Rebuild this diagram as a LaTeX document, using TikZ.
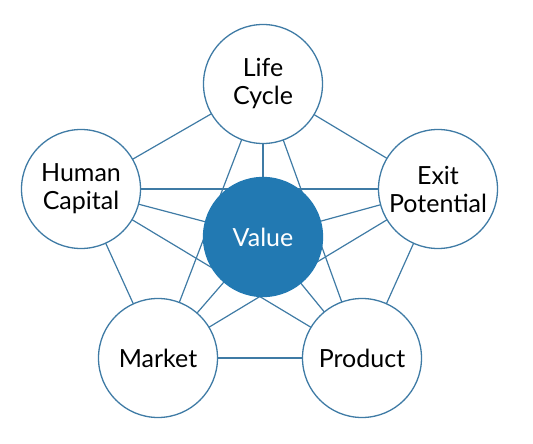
\documentclass[tikz,border=0pt]{standalone}
\usepackage{fontspec}
\setmainfont{Lato}
\definecolor{ringblue}{HTML}{3F7BA5}
\definecolor{valueblue}{HTML}{2279B2}
\tikzset{link/.style={draw=ringblue,line width=1.2pt},factor/.style={circle,draw=ringblue,fill=white,line width=1.3pt,minimum size=119pt,inner sep=0pt,align=center,font=\fontsize{25}{28}\selectfont},core/.style={factor,fill=valueblue,draw=valueblue,text=white}}

\begin{document}
\begin{tikzpicture}[x=1pt,y=-1pt]
\path[use as bounding box] (0,0) rectangle (533,444);
% node centres
\coordinate (lc) at (263,84);
\coordinate (hc) at (81,189);
\coordinate (ep) at (438,189);
\coordinate (mk) at (158,358);
\coordinate (pr) at (362,358);
\coordinate (va) at (263,237);
% connectors first, circles are painted over them
\foreach \a/\b in {lc/hc,lc/ep,lc/mk,lc/pr,hc/ep,hc/mk,hc/pr,ep/mk,ep/pr,mk/pr,va/lc,va/hc,va/ep,va/mk,va/pr}
  \draw[link] (\a) -- (\b);
\node[core] (value) at (va) {Value};
\node[factor] (life) at (lc) {Life\\Cycle};
\node[factor] (human) at (hc) {Human\\Capital};
\node[factor] (exit) at (ep) {Exit\\Potential};
\node[factor] (market) at (mk) {Market};
\node[factor] (product) at (pr) {Product};
\end{tikzpicture}
\end{document}
